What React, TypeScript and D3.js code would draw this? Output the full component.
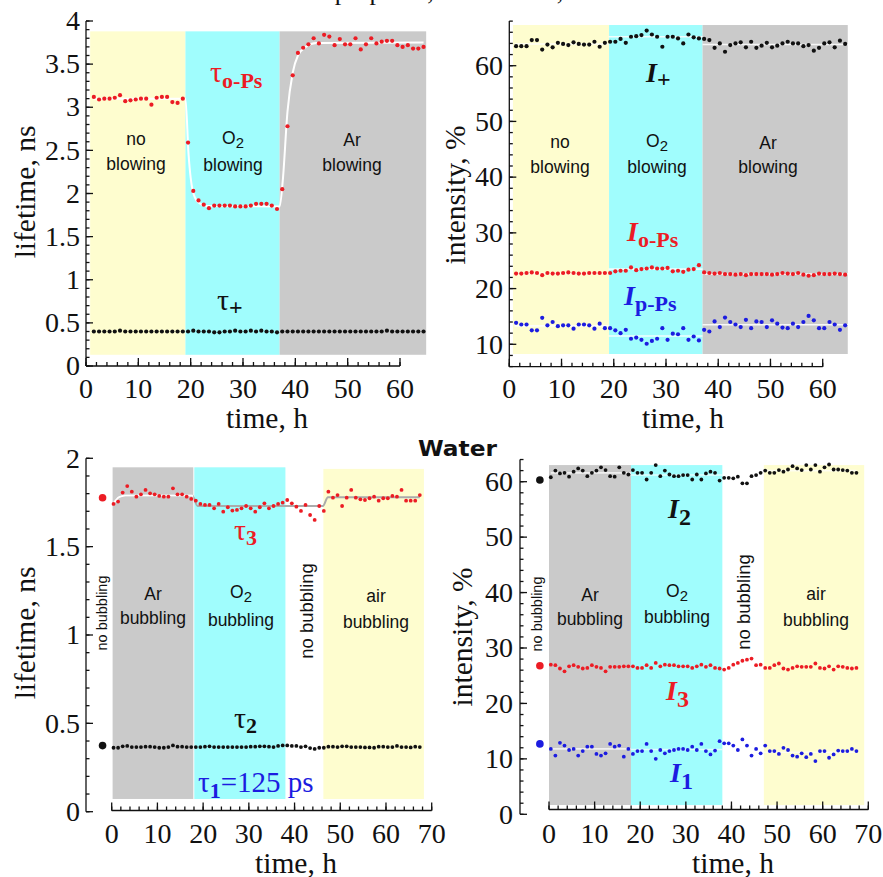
import * as React from "react";
import * as d3 from "d3";

// ---------- data ----------
// sampling: one point per hour
const STEP = 1;

// top-left: lifetimes, h from 1.5
const p1Start = 1.5;
const tauOPs = [
  3.12, 3.09, 3.10, 3.10, 3.11, 3.14, 3.07, 3.08, 3.09, 3.10, 3.10, 3.03, 3.11, 3.12, 3.12, 3.06, 3.05, 3.10,
  2.59, 2.03, 1.92, 1.87, 1.83, 1.86, 1.86, 1.86, 1.86, 1.85, 1.85, 1.85, 1.86, 1.88, 1.88, 1.88, 1.86, 1.82,
  2.05, 2.78, 3.37, 3.63, 3.69, 3.73, 3.80, 3.74, 3.84, 3.82, 3.72, 3.79, 3.73, 3.73, 3.80, 3.67, 3.73, 3.80,
  3.74, 3.76, 3.77, 3.77, 3.72, 3.70, 3.72, 3.68, 3.68, 3.70,
];
const tauPlus = [
  0.40, 0.40, 0.40, 0.40, 0.40, 0.41, 0.40, 0.40, 0.40, 0.40, 0.40, 0.40, 0.40, 0.40, 0.40, 0.40, 0.40, 0.40,
  0.40, 0.41, 0.40, 0.40, 0.40, 0.39, 0.39, 0.40, 0.40, 0.41, 0.40, 0.40, 0.41, 0.40, 0.41, 0.40, 0.40, 0.39,
  0.40, 0.40, 0.40, 0.40, 0.40, 0.40, 0.40, 0.40, 0.40, 0.40, 0.40, 0.40, 0.40, 0.40, 0.40, 0.40, 0.40, 0.40,
  0.40, 0.40, 0.41, 0.40, 0.40, 0.40, 0.40, 0.40, 0.40, 0.40,
];
// fitted curve through tau o-Ps
const fitTauTime = [1.5, 19, 19.6, 20.4, 21.4, 23, 37, 37.6, 38.5, 39.5, 40.5, 42, 44, 64.5];
const fitTauValue = [3.1, 3.1, 2.45, 2.03, 1.9, 1.855, 1.85, 2.15, 2.95, 3.4, 3.6, 3.7, 3.745, 3.75];

// top-right: intensities
const p2Start = 1.3;
const iPlus = [
  63.5, 63.5, 63.5, 64.6, 64.6, 62.9, 63.8, 63.3, 64.1, 63.9, 63.7, 64.2, 63.9, 63.8, 63.8, 64.3, 63.4, 64.1,
  64.3, 64.3, 64.8, 64.1, 65.2, 65.3, 65.5, 66.3, 65.6, 65.2, 63.4, 65.2, 65.2, 64.9, 64.0, 65.6, 65.1, 64.9,
  64.8, 64.6, 63.2, 64.0, 62.5, 63.7, 64.0, 64.2, 63.3, 64.3, 63.2, 63.6, 64.1, 63.3, 63.6, 64.0, 64.3, 64.0,
  64.0, 63.5, 63.7, 62.7, 63.2, 64.0, 64.2, 63.3, 64.5, 63.9,
];
const iOPs = [
  22.7, 22.7, 22.8, 22.9, 22.8, 22.4, 22.8, 22.7, 22.7, 22.8, 22.9, 22.8, 22.7, 22.7, 22.8, 22.8, 22.8, 22.8,
  22.8, 23.1, 23.2, 23.2, 23.8, 23.3, 23.5, 23.6, 23.8, 23.6, 23.6, 23.7, 23.1, 23.2, 23.0, 23.4, 23.5, 24.2,
  22.9, 22.8, 22.7, 22.8, 22.6, 22.6, 22.5, 22.6, 22.4, 22.6, 22.6, 22.6, 22.6, 22.5, 22.6, 22.8, 22.7, 22.6,
  22.8, 22.5, 22.3, 22.4, 22.7, 22.6, 22.6, 22.7, 22.6, 22.5,
];
const iPPs = [
  13.85, 13.55, 13.55, 12.5, 12.5, 14.75, 13.4, 14.0, 13.25, 13.4, 13.4, 12.8, 13.55, 13.55, 13.4, 12.8, 13.7, 12.9,
  12.9, 12.5, 12.0, 12.6, 11.0, 11.2, 10.8, 10.1, 10.6, 11.0, 12.9, 10.8, 11.9, 11.8, 12.9, 10.8, 11.4, 10.7,
  12.6, 12.3, 14.1, 13.1, 14.8, 14.0, 13.55, 13.1, 14.4, 12.9, 14.1, 14.0, 13.1, 14.3, 13.7, 13.0, 12.9, 13.7,
  13.1, 14.0, 15.1, 14.3, 12.9, 12.9, 14.0, 13.55, 12.6, 13.4,
];
// mean level per stage: [from h, to h, value]
const levelsIPlus = [[1, 19, 63.9], [19, 37, 65.2], [37, 65, 63.8]];
const levelsIOPs = [[1, 19, 22.7], [19, 37, 23.5], [37, 65, 22.6]];
const levelsIPPs = [[1, 19, 13.3], [19, 37, 11.5], [37, 65, 13.5]];

// bottom-left: water lifetimes
const p3Start = 0.4;
const tau3 = [
  1.742, 1.755, 1.806, 1.843, 1.811, 1.783, 1.796, 1.821, 1.802, 1.796, 1.787, 1.783, 1.783, 1.830, 1.796, 1.796, 1.783, 1.770,
  1.760, 1.742, 1.736, 1.736, 1.717, 1.742, 1.698, 1.723, 1.704, 1.708, 1.717, 1.730, 1.717, 1.698, 1.723, 1.745, 1.717, 1.730,
  1.742, 1.749, 1.764, 1.745, 1.726, 1.702, 1.736, 1.679, 1.651, 1.730, 1.702, 1.811, 1.777, 1.792, 1.730, 1.777, 1.821, 1.777,
  1.768, 1.764, 1.774, 1.783, 1.760, 1.774, 1.774, 1.787, 1.783, 1.821, 1.760, 1.760, 1.760, 1.792,
];
const tau2 = [
  0.362, 0.362, 0.370, 0.372, 0.366, 0.366, 0.366, 0.368, 0.368, 0.366, 0.362, 0.362, 0.366, 0.375, 0.368, 0.368, 0.366, 0.366,
  0.366, 0.366, 0.368, 0.370, 0.366, 0.366, 0.366, 0.366, 0.366, 0.366, 0.366, 0.366, 0.368, 0.368, 0.370, 0.370, 0.368, 0.366,
  0.372, 0.375, 0.375, 0.372, 0.372, 0.366, 0.370, 0.360, 0.355, 0.362, 0.362, 0.368, 0.368, 0.366, 0.370, 0.370, 0.366, 0.366,
  0.366, 0.364, 0.364, 0.362, 0.368, 0.368, 0.366, 0.366, 0.372, 0.366, 0.366, 0.364, 0.368, 0.366,
];
const fitTau3Time = [0.4, 1.6, 3, 17.6, 18.8, 46.2, 47.3, 67.4];
const fitTau3Value = [1.745, 1.78, 1.79, 1.79, 1.73, 1.73, 1.78, 1.78];
// reference point before the run (t = -2 h)
const refTime = -2;
const refTau3 = 1.777;
const refTau2 = 0.374;

// bottom-right: water intensities
const p4Start = 0.4;
const i2 = [
  60.8, 62.0, 61.5, 61.6, 60.9, 61.8, 62.4, 62.0, 61.0, 61.6, 62.0, 62.6, 62.1, 61.0, 60.9, 62.6, 61.6, 61.3,
  62.1, 61.6, 61.6, 60.4, 61.6, 63.0, 61.0, 62.0, 61.3, 61.0, 61.0, 61.2, 61.2, 60.4, 61.3, 60.4, 61.5, 61.8,
  61.6, 60.2, 60.7, 60.7, 60.6, 60.9, 59.7, 59.7, 61.0, 61.2, 61.6, 62.0, 61.6, 61.6, 62.1, 61.8, 62.2, 62.8,
  62.4, 62.1, 63.0, 62.2, 63.0, 61.8, 62.6, 63.1, 62.2, 62.2, 62.1, 62.0, 61.6, 61.6,
];
const i3 = [
  27.0, 26.9, 26.3, 25.8, 26.7, 26.9, 26.6, 26.3, 26.4, 26.9, 26.6, 26.4, 25.8, 26.6, 26.6, 26.6, 26.7, 26.7,
  26.7, 26.4, 26.4, 26.9, 26.4, 27.3, 26.7, 27.0, 26.9, 26.9, 26.7, 26.7, 26.7, 26.4, 26.7, 27.0, 26.6, 26.9,
  26.4, 26.3, 26.1, 26.4, 27.0, 27.3, 27.7, 27.9, 28.1, 26.9, 27.0, 26.4, 26.4, 26.9, 27.2, 26.3, 26.1, 26.4,
  26.7, 26.6, 26.6, 26.6, 27.2, 26.4, 26.3, 26.7, 26.1, 26.7, 26.6, 26.4, 26.3, 26.4,
];
const i1 = [
  11.8, 10.6, 12.9, 12.4, 11.6, 11.8, 10.6, 11.4, 12.2, 12.2, 10.9, 10.6, 11.0, 12.7, 12.2, 12.4, 10.4, 11.8,
  10.9, 11.4, 11.4, 12.7, 11.4, 10.0, 11.6, 11.0, 11.4, 11.6, 11.8, 11.8, 11.6, 12.2, 11.6, 12.7, 11.4, 10.8,
  11.5, 13.2, 12.8, 12.8, 12.4, 11.6, 13.5, 12.4, 10.6, 11.8, 11.0, 12.4, 11.4, 11.4, 10.9, 12.0, 11.6, 10.6,
  10.4, 11.0, 10.3, 10.9, 9.6, 11.4, 11.4, 10.2, 10.8, 11.5, 11.4, 11.4, 11.8, 11.4,
];
const refI2 = 60.3;
const refI3 = 26.8;
const refI1 = 12.7;
const levelsI2 = [[0.4, 18, 61.6], [18, 38, 61.2], [47, 67.4, 62.0]];
const levelsI1 = [[0.4, 18, 11.8], [18, 38, 11.7], [47, 67.4, 11.2]];

// ---------- styling ----------
const SERIF = "'Liberation Serif', 'Times New Roman', serif";
const SANS = "'Liberation Sans', Arial, sans-serif";
const YELLOW = "#fefdcf";
const CYAN = "#a0fdfd";
const GRAY = "#cacaca";
const RED = "#ec1c24";
const BLUE = "#1c1ce0";
const INK = "#111";

const times = (start, n) => d3.range(n).map(i => start + i * STEP);

// axes drawn with inward ticks, like the original plotting program
const Axes = ({ x, y, axisX, yLo, yHi, yMajor, yMinor, labelRight, axisY, xHi, xLabelBase }) => {
  const fmt = d3.format("~g");
  const yMaj = d3.range(Math.ceil(yLo / yMajor - 1e-9) * yMajor, yHi + 1e-9, yMajor);
  const yMin = d3.range(yLo, yHi + 1e-9, yMinor);
  const xMaj = d3.range(0, xHi + 1e-9, 10);
  const xMin = d3.range(0, xHi + 1e-9, 2);
  return (
    <g stroke={INK} strokeWidth={1.3}>
      <line x1={axisX} x2={axisX} y1={y(yLo)} y2={y(yHi)} />
      {yMin.map((v, i) => <line key={"ym" + i} x1={axisX} x2={axisX + 3.5} y1={y(v)} y2={y(v)} />)}
      {yMaj.map((v, i) => <line key={"yM" + i} x1={axisX} x2={axisX + 7} y1={y(v)} y2={y(v)} />)}
      {yMaj.map((v, i) => (
        <text key={"yl" + i} x={labelRight} y={y(v)} dy="0.33em" textAnchor="end"
          stroke="none" fill={INK} fontFamily={SERIF} fontSize={28}>{fmt(v)}</text>
      ))}
      <line x1={x(0)} x2={x(xHi)} y1={axisY} y2={axisY} />
      {xMin.map((v, i) => <line key={"xm" + i} x1={x(v)} x2={x(v)} y1={axisY} y2={axisY - 4} />)}
      {xMaj.map((v, i) => <line key={"xM" + i} x1={x(v)} x2={x(v)} y1={axisY} y2={axisY - 8} />)}
      {xMaj.map((v, i) => (
        <text key={"xl" + i} x={x(v)} y={xLabelBase} textAnchor="middle"
          stroke="none" fill={INK} fontFamily={SERIF} fontSize={28}>{fmt(v)}</text>
      ))}
    </g>
  );
};

const Bands = ({ x, y, bands }) => (
  <g>
    {bands.map((b, i) => (
      <rect key={i} x={x(b[0])} width={x(b[1]) - x(b[0])} y={y(b[3])} height={y(b[2]) - y(b[3])} fill={b[4]} />
    ))}
  </g>
);

const Dots = ({ x, y, start, values, color, r = 2.1 }) => (
  <g fill={color}>
    {times(start, values.length).map((t, i) => <circle key={i} cx={x(t)} cy={y(values[i])} r={r} />)}
  </g>
);

const Levels = ({ x, y, levels, color = "#fff", opacity = 0.85 }) => (
  <g stroke={color} strokeWidth={1.6} opacity={opacity}>
    {levels.map((l, i) => <line key={i} x1={x(l[0])} x2={x(l[1])} y1={y(l[2])} y2={y(l[2])} />)}
  </g>
);

const BandLabel = ({ x, y1, y2, top, bottom, size = 17.5 }) => (
  <text textAnchor="middle" fontFamily={SANS} fontSize={size} fill={INK}>
    <tspan x={x} y={y1}>{top === "O2" ? <>O<tspan fontSize={size * 0.85} dy={4}>2</tspan></> : top}</tspan>
    <tspan x={x} y={y2}>{bottom}</tspan>
  </text>
);

const VLabel = ({ x, y, size }) => (
  <text transform={`translate(${x},${y}) rotate(-90)`} textAnchor="middle" dominantBaseline="central"
    fontFamily={SANS} fontSize={size} fill={INK}>no bubbling</text>
);

// symbol with a bold subscript
const Sym = ({ x, y, main, sub, color, italic = false, size = 29, subSize = 22, dy = 6 }) => (
  <text x={x} y={y} fill={color} fontFamily={SERIF} fontSize={size}
    fontWeight={italic ? "bold" : "normal"} fontStyle={italic ? "italic" : "normal"}>
    {main}
    <tspan fontSize={subSize} fontWeight="bold" fontStyle="normal" dy={dy}>{sub}</tspan>
  </text>
);

const AxisTitle = ({ x, y, text, rotate = false }) => (
  <text transform={rotate ? `translate(${x},${y}) rotate(-90)` : undefined}
    x={rotate ? 0 : x} y={rotate ? 0 : y} textAnchor="middle" fontFamily={SERIF} fontSize={29.5} fill={INK}>
    {text}
  </text>
);

export default function App() {
  // panel 1
  const x1 = d3.scaleLinear().domain([0, 60]).range([86, 400]);
  const y1 = d3.scaleLinear().domain([0, 4]).range([366, 21]);
  const fitLine1 = d3.line().x(d => x1(d[0])).y(d => y1(d[1])).curve(d3.curveMonotoneX)(
    fitTauTime.map((t, i) => [t, fitTauValue[i]])
  );
  // panel 2
  const x2 = d3.scaleLinear().domain([0, 60]).range([509.3, 822.7]);
  const y2 = d3.scaleLinear().domain([10, 60]).range([344.3, 65.7]);
  // panel 3
  const x3 = d3.scaleLinear().domain([0, 70]).range([111.7, 431.7]);
  const y3 = d3.scaleLinear().domain([0, 2]).range([811.7, 458.3]);
  const fitLine3 = d3.line().x(d => x3(d[0])).y(d => y3(d[1])).curve(d3.curveMonotoneX)(
    fitTau3Time.map((t, i) => [t, fitTau3Value[i]])
  );
  // panel 4
  const x4 = d3.scaleLinear().domain([0, 70]).range([549, 868.3]);
  const y4 = d3.scaleLinear().domain([0, 60]).range([814.3, 481.7]);

  return (
    <svg width={883} height={877} style={{ position: "absolute", left: 0, top: 0, background: "#fff" }}>
      {/* header cut by the crop */}
      <text x={303} y={-0.5} fontFamily={SERIF} fontSize={26} fill={INK}>Isopropanol, ambient air, 20 °C</text>

      {/* ---- top-left ---- */}
      <Bands x={x1} y={y1} bands={[[0.8, 19, 0.13, 3.88, YELLOW], [19, 37, 0.13, 3.88, CYAN], [37, 65, 0.13, 3.88, GRAY]]} />
      <BandLabel x={136} y1={145} y2={170} top="no" bottom="blowing" />
      <BandLabel x={233} y1={144} y2={171} top="O2" bottom="blowing" />
      <BandLabel x={352} y1={146} y2={171} top="Ar" bottom="blowing" />
      <path d={fitLine1} fill="none" stroke="#fff" strokeWidth={2} />
      <Dots x={x1} y={y1} start={p1Start} values={tauOPs} color={RED} />
      <Dots x={x1} y={y1} start={p1Start} values={tauPlus} color={INK} />
      <Sym x={210} y={82} main="τ" sub="o-Ps" color={RED} size={30} />
      <Sym x={217} y={310} main="τ" sub="+" color={INK} size={30} dy={5} subSize={24} />
      <Axes x={x1} y={y1} axisX={86} yLo={0} yHi={4} yMajor={0.5} yMinor={0.1} labelRight={80}
        axisY={366} xHi={60} xLabelBase={398} />
      <AxisTitle x={35} y={192} text="lifetime, ns" rotate />
      <AxisTitle x={267} y={428} text="time, h" />

      {/* ---- top-right ---- */}
      <Bands x={x2} y={y2} bands={[[0.7, 19.1, 8.26, 67.3, YELLOW], [19.1, 37, 8.26, 67.3, CYAN], [37, 64.8, 8.26, 67.3, GRAY]]} />
      <BandLabel x={560} y1={148} y2={173} top="no" bottom="blowing" />
      <BandLabel x={657} y1={147} y2={173} top="O2" bottom="blowing" />
      <BandLabel x={768} y1={149} y2={173} top="Ar" bottom="blowing" />
      <Levels x={x2} y={y2} levels={levelsIPlus} />
      <Levels x={x2} y={y2} levels={levelsIOPs} />
      <Levels x={x2} y={y2} levels={levelsIPPs} />
      <Dots x={x2} y={y2} start={p2Start} values={iPlus} color={INK} />
      <Dots x={x2} y={y2} start={p2Start} values={iOPs} color={RED} />
      <Dots x={x2} y={y2} start={p2Start} values={iPPs} color={BLUE} />
      <Sym x={646} y={82} main="I" sub="+" color={INK} italic size={28} subSize={24} dy={5} />
      <Sym x={627} y={241} main="I" sub="o-Ps" color={RED} italic size={28} />
      <Sym x={624} y={305} main="I" sub="p-Ps" color={BLUE} italic size={28} />
      <Axes x={x2} y={y2} axisX={509.3} yLo={6} yHi={68} yMajor={10} yMinor={2} labelRight={503}
        axisY={366.7} xHi={60} xLabelBase={398} />
      <AxisTitle x={465} y={195} text="intensity, %" rotate />
      <AxisTitle x={683} y={428} text="time, h" />

      {/* ---- Water ---- */}
      <text x={418} y={456} fontFamily="'DejaVu Sans', Verdana, sans-serif" fontWeight="bold" fontSize={21}
        textLength={79} lengthAdjust="spacingAndGlyphs" fill={INK}>Water</text>

      {/* ---- bottom-left ---- */}
      <Bands x={x3} y={y3} bands={[[0.2, 17.85, 0.072, 1.949, GRAY], [18.07, 38, 0.072, 1.949, CYAN], [46.3, 68.3, 0.072, 1.94, YELLOW]]} />
      <VLabel x={101.5} y={613} size={14.5} />
      <BandLabel x={153} y1={600} y2={624} top="Ar" bottom="bubbling" />
      <BandLabel x={241} y1={598} y2={626} top="O2" bottom="bubbling" />
      <VLabel x={306.5} y={611} size={18.5} />
      <BandLabel x={376} y1={602} y2={628} top="air" bottom="bubbling" />
      <clipPath id="grayPart3"><rect x={x3(0)} y={450} width={x3(17.85) - x3(0)} height={380} /></clipPath>
      <path d={fitLine3} fill="none" stroke="#ababab" strokeWidth={2} />
      <path d={fitLine3} fill="none" stroke="#fff" strokeWidth={2} clipPath="url(#grayPart3)" />
      <Dots x={x3} y={y3} start={p3Start} values={tau3} color={RED} r={1.9} />
      <Dots x={x3} y={y3} start={p3Start} values={tau2} color={INK} r={1.9} />
      <circle cx={x3(refTime)} cy={y3(refTau3)} r={3.8} fill={RED} />
      <circle cx={x3(refTime)} cy={y3(refTau2)} r={3.8} fill={INK} />
      <Sym x={234} y={540} main="τ" sub="3" color={RED} size={30} dy={5} />
      <Sym x={234} y={728} main="τ" sub="2" color={INK} size={30} dy={5} />
      <text x={198} y={792} fill={BLUE} fontFamily={SERIF} fontSize={29}>
        τ<tspan fontSize={22} fontWeight="bold" dy={6}>1</tspan><tspan dy={-6}>=125 ps</tspan>
      </text>
      <Axes x={x3} y={y3} axisX={86} yLo={0} yHi={2} yMajor={0.5} yMinor={0.1} labelRight={80}
        axisY={810.5} xHi={70} xLabelBase={843} />
      <AxisTitle x={35} y={633} text="lifetime, ns" rotate />
      <AxisTitle x={296} y={873} text="time, h" />

      {/* ---- bottom-right ---- */}
      <Bands x={x4} y={y4} bands={[[0, 17.97, 1.68, 63, GRAY], [17.97, 38, 1.68, 63, CYAN], [47.1, 69.1, 1.68, 63, YELLOW]]} />
      <VLabel x={537} y={614} size={14.5} />
      <BandLabel x={590} y1={601} y2={625} top="Ar" bottom="bubbling" />
      <BandLabel x={677} y1={597} y2={623} top="O2" bottom="bubbling" />
      <VLabel x={743} y={602} size={18.5} />
      <BandLabel x={816} y1={600} y2={626} top="air" bottom="bubbling" />
      <Levels x={x4} y={y4} levels={levelsI2} opacity={0.7} />
      <Levels x={x4} y={y4} levels={levelsI1} opacity={0.7} />
      <Dots x={x4} y={y4} start={p4Start} values={i2} color={INK} r={1.9} />
      <Dots x={x4} y={y4} start={p4Start} values={i3} color={RED} r={1.9} />
      <Dots x={x4} y={y4} start={p4Start} values={i1} color={BLUE} r={1.9} />
      <circle cx={x4(refTime)} cy={y4(refI2)} r={3.8} fill={INK} />
      <circle cx={x4(refTime)} cy={y4(refI3)} r={3.8} fill={RED} />
      <circle cx={x4(refTime)} cy={y4(refI1)} r={3.8} fill={BLUE} />
      <Sym x={668} y={518} main="I" sub="2" color={INK} italic size={28} dy={7} subSize={24} />
      <Sym x={666} y={700} main="I" sub="3" color={RED} italic size={28} dy={7} subSize={24} />
      <Sym x={670} y={782} main="I" sub="1" color={BLUE} italic size={28} dy={7} subSize={24} />
      <Axes x={x4} y={y4} axisX={520} yLo={0} yHi={64} yMajor={10} yMinor={2} labelRight={513}
        axisY={809.5} xHi={70} xLabelBase={843} />
      <AxisTitle x={471.5} y={637} text="intensity, %" rotate />
      <AxisTitle x={733} y={873} text="time, h" />
    </svg>
  );
}
